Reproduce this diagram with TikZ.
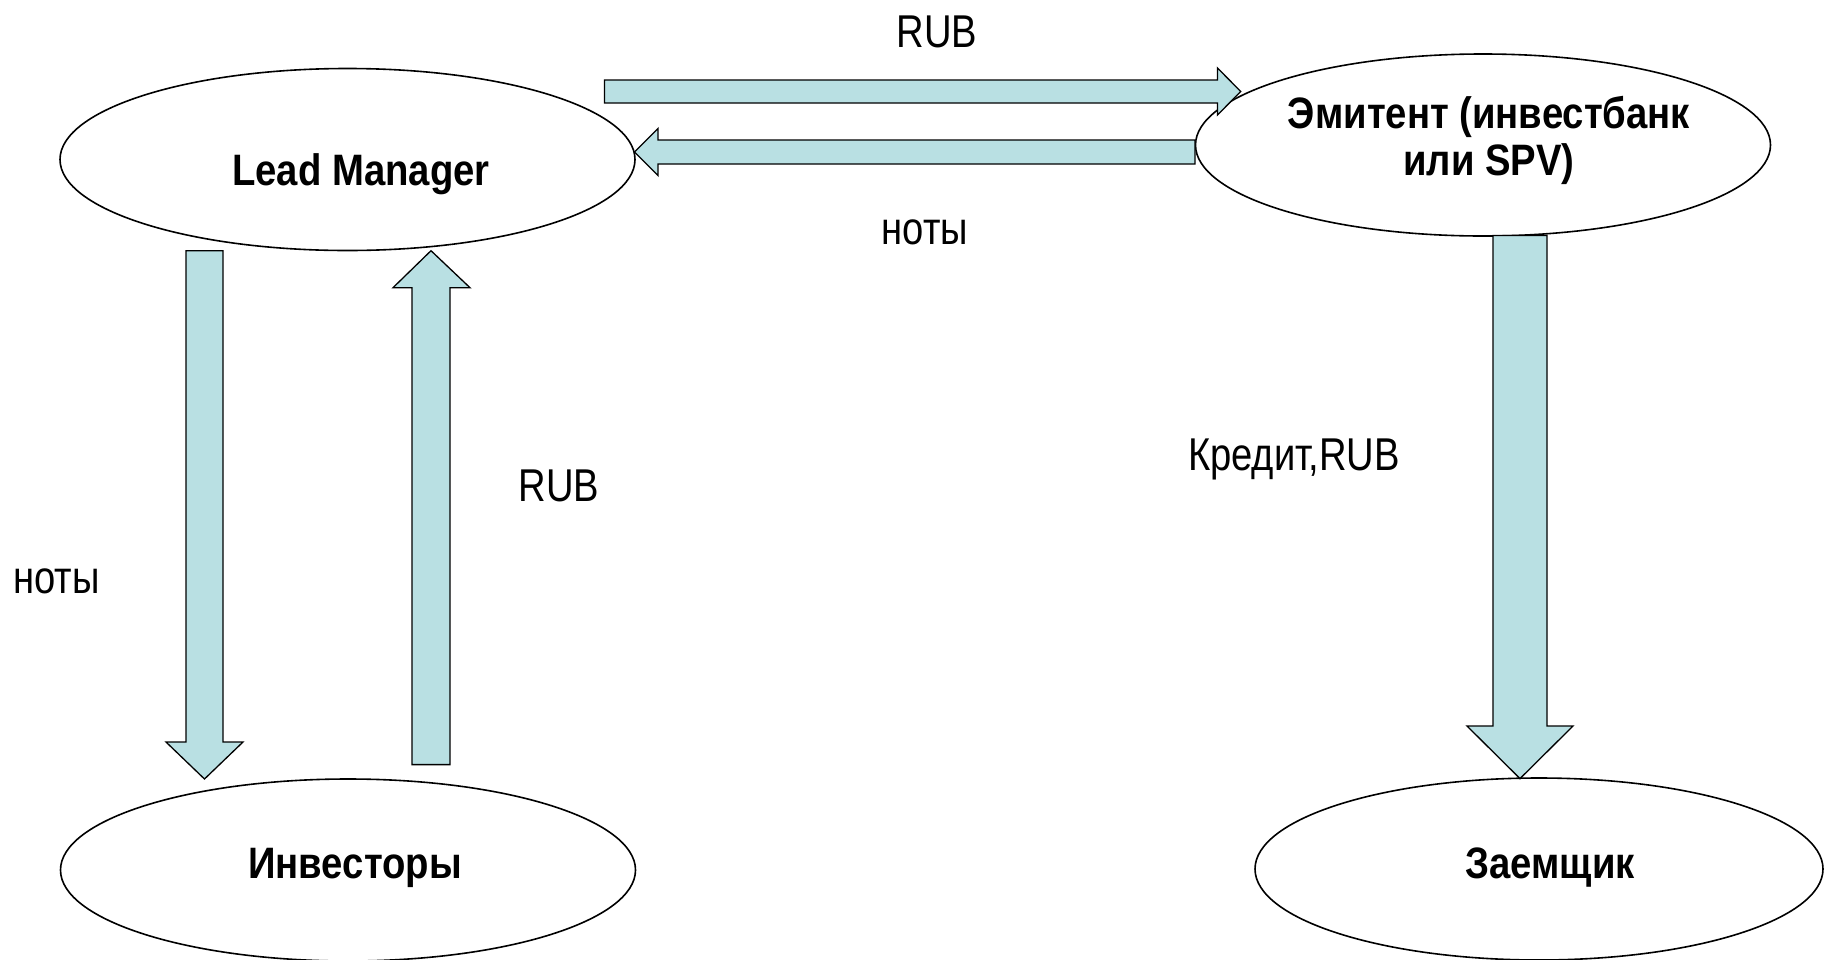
\documentclass[tikz,border=0pt]{standalone}
\usepackage{fontspec}
\setmainfont{Liberation Sans}
\newfontfamily\regf{Liberation Sans}[FakeStretch=0.83]
\newfontfamily\bldf{Liberation Sans}[FakeStretch=0.87]
\usetikzlibrary{shapes.geometric}
\definecolor{arrfill}{RGB}{185,224,227}
\begin{document}
\begin{tikzpicture}[x=1pt,y=-1pt,
  ell/.style={draw=black, line width=1.6pt, ellipse, inner sep=0pt, minimum width=575pt, minimum height=182pt},
  bold/.style={font=\bldf\bfseries\fontsize{44}{47}\selectfont, inner sep=0pt, anchor=base, align=center},
  lab/.style={font=\regf\fontsize{46}{50}\selectfont, inner sep=0pt, anchor=base},
  barrow/.style={draw=black, line width=1.3pt, fill=arrfill, line join=miter}]
\useasboundingbox (0,0) rectangle (1826,959);
% ellipses
\node[ell] (lm) at (347.5,159.5) {};
\node[ell] (em) at (1483,145) {};
\node[ell] (inv) at (348,870) {};
\node[ell, minimum width=568pt] (zm) at (1539,869) {};
% texts in ellipses
\node[bold] (lmt) at (361,185) {Lead Manager};
\node[bold] (emt) at (1489,175) {Эмитент (инвестбанк\\или SPV)};
\node[bold] (invt) at (355,878) {Инвесторы};
\node[bold] (zmt) at (1550,878) {Заемщик};
% labels
\node[lab] (l1) at (937,47) {RUB};
\node[lab] (l2) at (925,244) {ноты};
\node[lab] (l3) at (559,501) {RUB};
\node[lab] (l4) at (56.7,593.7) {ноты};
\node[lab] (l5) at (1294,470) {Кредит,RUB};
% arrow end coordinates
\coordinate (a1s) at (604.5,91.5);
\coordinate (a1e) at (1240.7,91.5);
\coordinate (a2s) at (1195,152);
\coordinate (a2e) at (634.5,152);
% LM -> Emitent (RUB)
\draw[barrow] (a1s) ++(0,-11.5) -- (1217.5,80) -- (1217.5,68) -- (a1e) -- (1217.5,115) -- (1217.5,103) -- (604.5,103) -- cycle;
% Emitent -> LM (ноты)
\draw[barrow] (a2s) ++(0,-12) -- (658,140) -- (658,128.5) -- (a2e) -- (658,175.5) -- (658,164) -- (1195,164) -- cycle;
% LM -> Investors (ноты)
\draw[barrow] (186,250.7) -- (223,250.7) -- (223,742) -- (243,742) -- (204.5,779) -- (166,742) -- (186,742) -- cycle;
% Investors -> LM (RUB)
\draw[barrow] (412,764.6) -- (450,764.6) -- (450,287.7) -- (470,287.7) -- (431,250.7) -- (393,287.7) -- (412,287.7) -- cycle;
% Emitent -> Borrower
\draw[barrow] (1493,235.5) -- (1547,235.5) -- (1547,726) -- (1573,726) -- (1520,778.6) -- (1467,726) -- (1493,726) -- cycle;
\end{tikzpicture}
\end{document}
